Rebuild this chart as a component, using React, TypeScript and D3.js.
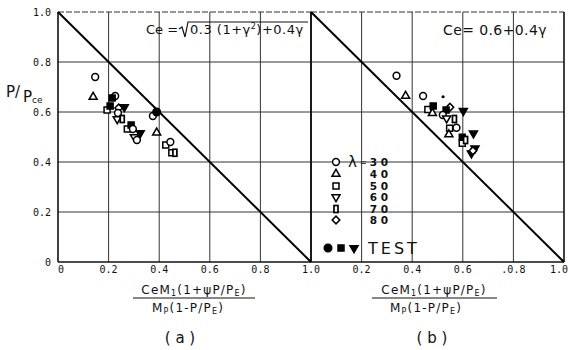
import React from "react";
import * as d3 from "d3";

// tick values and labels
const tickVals = [0, 0.2, 0.4, 0.6, 0.8, 1.0];
const yTickLabels = ["0", "0.2", "0.4", "0.6", "0.8", "1.0"];
const xTickLabelsA = ["0", "0.2", "0.4", "0.6", "0.8", ""];
const xTickLabelsB = ["1.0", "0.2", "0.4", "0.6", ".0.8", "1.0"];

// legend: lambda values and marker types
const lambdas = ["3 0", "4 0", "5 0", "6 0", "7 0", "8 0"];
const legendMarkers = ["circle", "triangle", "square", "triangleDown", "bar", "diamond"];
const testMarkers = ["circle", "square", "triangleDown"];

// points: [x, y, marker, filled]
const pointsA: [number, number, string, boolean][] = [
  [0.147, 0.74, "circle", false],
  [0.139, 0.66, "triangle", false],
  [0.226, 0.664, "circle", false],
  [0.214, 0.656, "square", true],
  [0.194, 0.608, "square", false],
  [0.206, 0.624, "square", true],
  [0.24, 0.616, "diamond", false],
  [0.262, 0.62, "triangleDown", true],
  [0.237, 0.596, "circle", false],
  [0.234, 0.572, "triangleDown", false],
  [0.254, 0.572, "bar", false],
  [0.274, 0.532, "square", false],
  [0.289, 0.548, "square", true],
  [0.296, 0.532, "circle", false],
  [0.302, 0.5, "triangleDown", false],
  [0.325, 0.516, "triangleDown", true],
  [0.312, 0.488, "circle", false],
  [0.375, 0.584, "circle", false],
  [0.39, 0.6, "circle", true],
  [0.39, 0.517, "triangle", false],
  [0.426, 0.468, "square", false],
  [0.444, 0.48, "circle", false],
  [0.45, 0.437, "square", false],
  [0.462, 0.437, "bar", false],
];

const pointsB: [number, number, string, boolean][] = [
  [0.338, 0.745, "circle", false],
  [0.374, 0.664, "triangle", false],
  [0.443, 0.664, "circle", false],
  [0.522, 0.661, "dot", true],
  [0.462, 0.61, "square", false],
  [0.483, 0.624, "square", true],
  [0.48, 0.595, "triangle", false],
  [0.549, 0.619, "diamond", false],
  [0.534, 0.608, "square", true],
  [0.521, 0.588, "circle", false],
  [0.536, 0.575, "triangleDown", false],
  [0.602, 0.605, "triangleDown", true],
  [0.567, 0.572, "bar", false],
  [0.548, 0.535, "square", false],
  [0.575, 0.537, "circle", false],
  [0.545, 0.51, "triangle", false],
  [0.598, 0.499, "square", true],
  [0.598, 0.475, "square", false],
  [0.611, 0.488, "bar", false],
  [0.642, 0.515, "triangleDown", true],
  [0.648, 0.455, "triangleDown", true],
  [0.634, 0.435, "triangleDown", true],
  [0.64, 0.445, "diamond", false],
];

const xA = d3.scaleLinear().domain([0, 1]).range([58, 311]);
const xB = d3.scaleLinear().domain([0, 1]).range([311, 564]);
const y = d3.scaleLinear().domain([0, 1]).range([262, 12]);

const mono = "DejaVu Sans Mono";
const sans = "DejaVu Sans";

const tri = d3.symbol().type(d3.symbolTriangle).size(28)() as string;

const Marker = ({ type, cx, cy, filled }) => {
  const fill = filled ? "#000" : "#fff";
  const common = { stroke: "#000", strokeWidth: 1.5, fill };
  switch (type) {
    case "circle":
      return <circle cx={cx} cy={cy} r={filled ? 3.8 : 3.4} {...common} />;
    case "dot":
      return <circle cx={cx} cy={cy} r={1.6} fill="#000" />;
    case "square":
      return <rect x={cx - 3} y={cy - 3} width={6} height={6} {...common} />;
    case "triangle":
      return <path d={tri} transform={`translate(${cx},${cy})`} {...common} />;
    case "triangleDown":
      return <path d={tri} transform={`translate(${cx},${cy}) rotate(180)`} {...common} />;
    case "bar":
      return <rect x={cx - 2} y={cy - 3.5} width={4} height={7} {...common} strokeWidth={1.7} />;
    case "diamond":
      return <rect x={-2.7} y={-2.7} width={5.4} height={5.4} transform={`translate(${cx},${cy}) rotate(45)`} {...common} />;
    default:
      return null;
  }
};

const Panel = ({ x, points, labels }) => (
  <g>
    {/* grid */}
    {tickVals.slice(1, 5).map((t) => (
      <line key={"v" + t} x1={x(t)} x2={x(t)} y1={y(0)} y2={y(1)} stroke="#333" strokeWidth={1} />
    ))}
    {tickVals.slice(1, 6).map((t) => (
      <line key={"h" + t} x1={x(0)} x2={x(1)} y1={y(t)} y2={y(t)} stroke="#333" strokeWidth={1} strokeDasharray={t === 1 ? "6 2" : null} />
    ))}
    {/* borders */}
    <line x1={x(0)} x2={x(0)} y1={y(0)} y2={y(1)} stroke="#111" strokeWidth={1.6} />
    <line x1={x(1)} x2={x(1)} y1={y(0)} y2={y(1)} stroke="#111" strokeWidth={1.6} />
    <line x1={x(0)} x2={x(1)} y1={y(0)} y2={y(0)} stroke="#111" strokeWidth={1.6} />
    {/* diagonal */}
    <line x1={x(0)} y1={y(1)} x2={x(1)} y2={y(0)} stroke="#000" strokeWidth={2} />
    {/* x tick labels */}
    {tickVals.map((t, i) =>
      labels[i] ? (
        <text
          key={"xl" + t}
          x={i === 0 && labels[i] === "0" ? x(t) + 3 : i === 5 ? 568 : x(t)}
          y={273}
          fontFamily={mono}
          fontSize={10}
          textAnchor={i === 5 ? "end" : "middle"}
          fill="#111"
        >
          {labels[i]}
        </text>
      ) : null
    )}
    {points.map((p, i) => (
      <Marker key={i} type={p[2]} cx={x(p[0])} cy={y(p[1])} filled={p[3]} />
    ))}
  </g>
);

export default function App() {
  const legendX = 336;
  const legendY = [162, 174, 186, 197, 209, 220];
  return (
    <svg width={569} height={350} style={{ position: "absolute", left: 0, top: 0, background: "#fff" }}>
      <rect width={569} height={350} fill="#fff" />
      <Panel x={xA} points={pointsA} labels={xTickLabelsA} />
      <Panel x={xB} points={pointsB} labels={xTickLabelsB} />

      {/* y tick labels */}
      {tickVals.map((t, i) => (
        <text key={"yl" + t} x={51} y={y(t) + 3.5} fontFamily={mono} fontSize={10} textAnchor="end" fill="#111">
          {yTickLabels[i]}
        </text>
      ))}

      {/* y axis title */}
      <text x={6} y={97} fontFamily={sans} fontSize={15} fill="#111">
        P/
      </text>
      <text x={23} y={102} fontFamily={sans} fontSize={15} fill="#111">
        P<tspan fontSize={9} dy={1}>ce</tspan>
      </text>

      {/* formula a */}
      <text x={146} y={34} fontFamily={sans} fontSize={13} fill="#111">
        Ce =
      </text>
      <path d="M179,29 L182,27 L185,37 L188,22 L308,22" fill="none" stroke="#111" strokeWidth={1.2} />
      <text x={190} y={34} fontFamily={sans} fontSize={13} fill="#111" letterSpacing={0.5}>
        0.3 (1+γ<tspan fontSize={8} dy={-5}>2</tspan><tspan dy={5}>)+0.4γ</tspan>
      </text>

      {/* formula b */}
      <text x={443} y={35} fontFamily={sans} fontSize={14} fill="#111" letterSpacing={0.4}>
        Ce= 0.6+0.4γ
      </text>

      {/* legend */}
      {legendMarkers.map((m, i) => (
        <Marker key={"lg" + m} type={m} cx={legendX} cy={legendY[i]} filled={false} />
      ))}
      <text x={348} y={legendY[0] + 5} fontFamily={sans} fontSize={15} fill="#111">
        λ
      </text>
      <text x={360} y={legendY[0] + 3} fontFamily={sans} fontSize={8} fill="#111">
        =
      </text>
      {lambdas.map((l, i) => (
        <text key={"lt" + l} x={388} y={legendY[i] + 4} fontFamily={sans} fontSize={10.5} fontWeight="bold" textAnchor="end" fill="#111">
          {l}
        </text>
      ))}
      {testMarkers.map((m, i) => (
        <Marker key={"tm" + m} type={m} cx={328 + i * 13} cy={248} filled={true} />
      ))}
      <text x={368} y={254} fontFamily={sans} fontSize={16} letterSpacing={3} fill="#111">
        TEST
      </text>

      {/* x axis titles */}
      <text x={194} y={294} fontFamily={sans} fontSize={12} textAnchor="middle" fill="#111" letterSpacing={1.2}>
        CeM<tspan fontSize={8} dy={2}>1</tspan><tspan dy={-2}>(1+ψP/P</tspan><tspan fontSize={8} dy={2}>E</tspan><tspan dy={-2}>)</tspan>
      </text>
      <line x1={133} x2={255} y1={298} y2={298} stroke="#111" strokeWidth={1.2} />
      <text x={188} y={312} fontFamily={sans} fontSize={12} textAnchor="middle" fill="#111" letterSpacing={1.2}>
        M<tspan fontSize={8} dy={2}>P</tspan><tspan dy={-2}>(1-P/P</tspan><tspan fontSize={8} dy={2}>E</tspan><tspan dy={-2}>)</tspan>
      </text>
      <text x={180} y={343} fontFamily={sans} fontSize={15} textAnchor="middle" fill="#111">
        ( a )
      </text>

      <text x={434} y={294} fontFamily={sans} fontSize={12} textAnchor="middle" fill="#111" letterSpacing={1.2}>
        CeM<tspan fontSize={8} dy={2}>1</tspan><tspan dy={-2}>(1+ψP/P</tspan><tspan fontSize={8} dy={2}>E</tspan><tspan dy={-2}>)</tspan>
      </text>
      <line x1={372} x2={497} y1={298} y2={298} stroke="#111" strokeWidth={1.2} />
      <text x={426} y={312} fontFamily={sans} fontSize={12} textAnchor="middle" fill="#111" letterSpacing={1.2}>
        M<tspan fontSize={8} dy={2}>P</tspan><tspan dy={-2}>(1-P/P</tspan><tspan fontSize={8} dy={2}>E</tspan><tspan dy={-2}>)</tspan>
      </text>
      <text x={432} y={343} fontFamily={sans} fontSize={15} textAnchor="middle" fill="#111">
        ( b )
      </text>
    </svg>
  );
}
